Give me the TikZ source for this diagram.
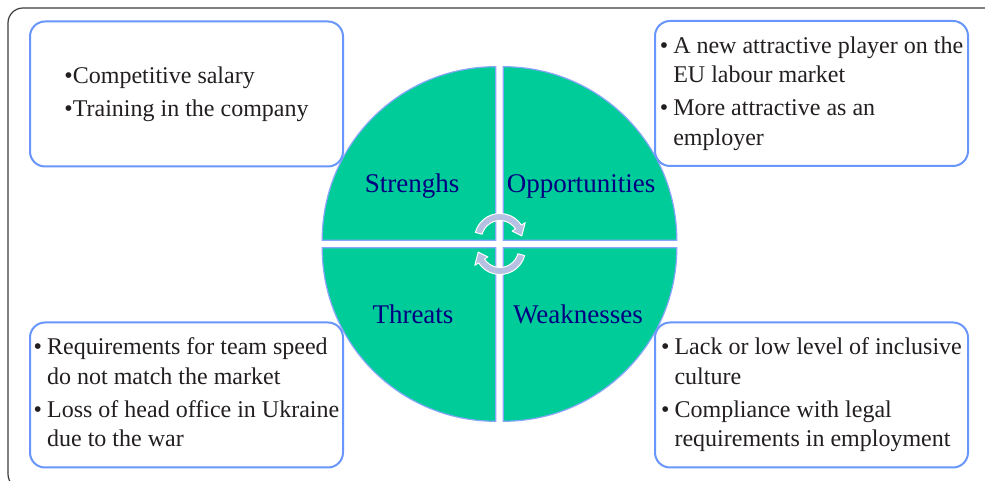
\documentclass[tikz,border=0pt]{standalone}
\usepackage{fontspec}
\setmainfont{Liberation Serif}
\definecolor{swotgreen}{RGB}{0,204,153}
\definecolor{swotedge}{RGB}{135,165,250}
\definecolor{swotblue}{RGB}{105,150,250}
\definecolor{swotnavy}{RGB}{0,0,128}
\definecolor{swotink}{RGB}{35,31,32}
\definecolor{swotcycle}{RGB}{182,192,226}
\definecolor{swotframe}{RGB}{60,60,60}

\begin{document}
\begin{tikzpicture}[x=0.5pt, y=0.5pt,
    quadrant/.style={fill=swotgreen, draw=swotedge, line width=0.6pt},
    quadlbl/.style={font=\fontsize{13.5}{16}\selectfont, text=swotnavy,
                    inner sep=0pt, anchor=base},
    listbox/.style={draw=swotblue, line width=1pt, fill=white,
                    rounded corners=7.5pt, minimum width=156.5pt,
                    minimum height=72.5pt, inner sep=0pt, text=swotink,
                    font=\fontsize{12}{14.75}\selectfont},
    cyclearrow/.style={fill=swotcycle, draw=white, line width=0.5pt,
                       line join=round},
]

\useasboundingbox (0,0) rectangle (985,481);

% ================================================================
% OUTER FRAME (runs off the right and bottom edges)
% ================================================================
\begin{scope}
  \clip (0,0) rectangle (985,481);
  \draw[swotframe, line width=0.6pt, rounded corners=7.5pt]
    (8,-8) rectangle (1010,473);
\end{scope}

% ================================================================
% SWOT CIRCLE -- four quarters pulled apart by a small gap
% ================================================================
\def\cx{499.5}
\def\cy{237}
\def\gap{3.8}
\def\rad{173.5}

\filldraw[quadrant] (\cx-\gap,\cy+\gap) -- ++(90:\rad)
  arc[start angle=90, end angle=180, radius=\rad] -- cycle;
\filldraw[quadrant] (\cx+\gap,\cy+\gap) -- ++(0:\rad)
  arc[start angle=0, end angle=90, radius=\rad] -- cycle;
\filldraw[quadrant] (\cx-\gap,\cy-\gap) -- ++(180:\rad)
  arc[start angle=180, end angle=270, radius=\rad] -- cycle;
\filldraw[quadrant] (\cx+\gap,\cy-\gap) -- ++(270:\rad)
  arc[start angle=270, end angle=360, radius=\rad] -- cycle;

\node[quadlbl] (str) at (412,288) {Strenghs};
\node[quadlbl] (opp) at (581,288) {Opportunities};
\node[quadlbl] (thr) at (413,157) {Threats};
\node[quadlbl] (wea) at (578,157) {Weaknesses};

% ================================================================
% CYCLE ARROWS in the middle
% ================================================================
\begin{scope}[shift={(500,242)}]
  \filldraw[cyclearrow] (165:25.5)
    arc[start angle=165, end angle=33, radius=25.5]
    -- (33:30) -- (8:22) -- (33:14.5) -- (33:18.5)
    arc[start angle=33, end angle=165, radius=18.5] -- cycle;
\end{scope}
\begin{scope}[shift={(500,232)}]
  \filldraw[cyclearrow] (-15:25.5)
    arc[start angle=-15, end angle=-147, radius=25.5]
    -- (-147:30) -- (-172:22) -- (-147:14.5) -- (-147:18.5)
    arc[start angle=-147, end angle=-15, radius=18.5] -- cycle;
\end{scope}

% ================================================================
% LIST BOXES
% ================================================================
\node[listbox] (strbox) at (186.5,387) {%
  \begin{tabular}{@{}l@{}l@{}}
    \textbullet & Competitive salary\\[1.75pt]
    \textbullet & Training in the company
  \end{tabular}};

\node[listbox] (oppbox) at (811.5,387.5) {%
  \begin{tabular}{@{}l@{\hspace{2.5pt}}l@{}}
    \textbullet & A new attractive player on the\\
                & EU labour market\\[1.75pt]
    \textbullet & More attractive as an\\
                & employer
  \end{tabular}};

\node[listbox] (thrbox) at (186.5,86) {%
  \begin{tabular}{@{}l@{\hspace{2.5pt}}l@{}}
    \textbullet & Requirements for team speed\\
                & do not match the market\\[1.75pt]
    \textbullet & Loss of head office in Ukraine\\
                & due to the war
  \end{tabular}};

\node[listbox] (weabox) at (811.5,86) {%
  \begin{tabular}{@{}l@{\hspace{2.5pt}}l@{}}
    \textbullet & Lack or low level of inclusive\\
                & culture\\[1.75pt]
    \textbullet & Compliance with legal\\
                & requirements in employment
  \end{tabular}};

\end{tikzpicture}
\end{document}
